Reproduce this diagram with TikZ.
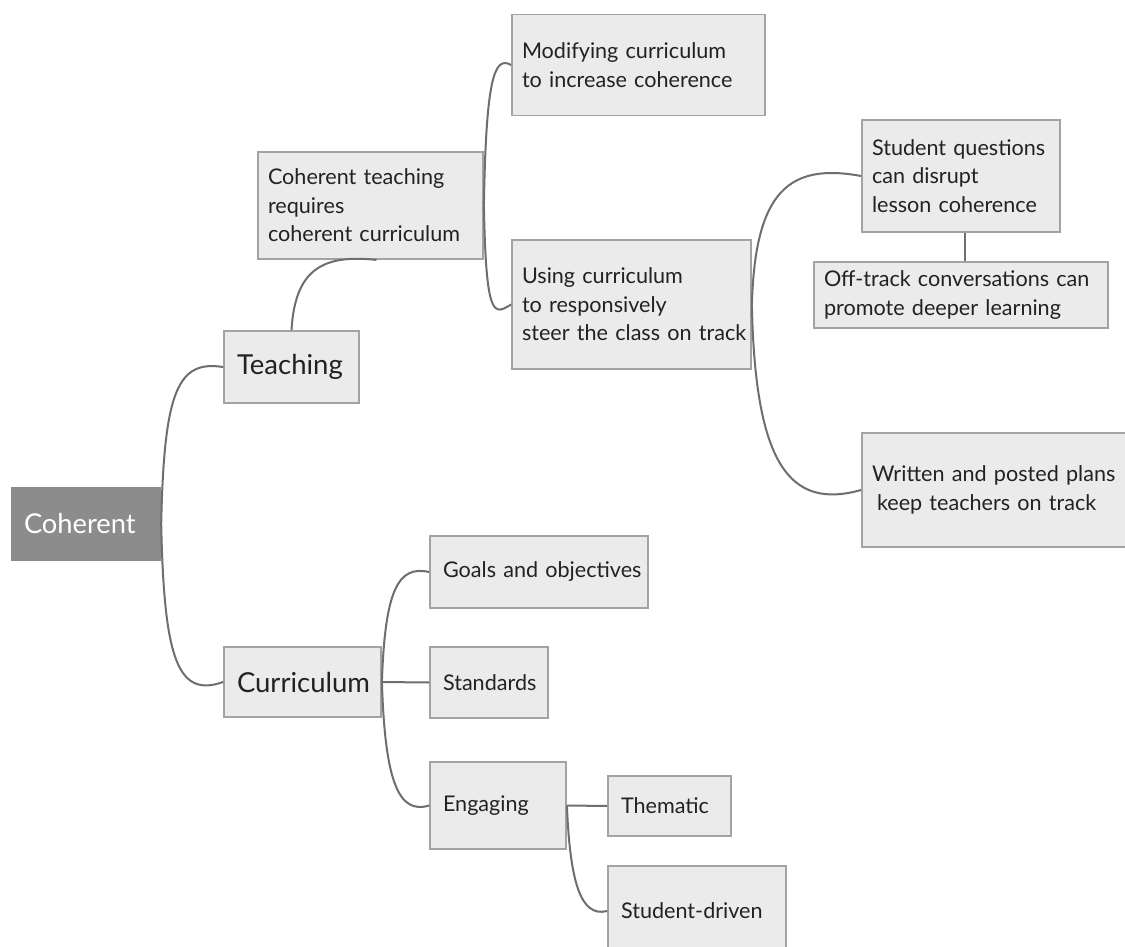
\documentclass[tikz,border=0pt]{standalone}
\usepackage{fontspec}
\setmainfont{Lato}
\definecolor{boxfill}{HTML}{EBEBEB}
\definecolor{boxline}{HTML}{A3A3A3}
\definecolor{rootfill}{HTML}{8C8C8C}
\definecolor{linkgray}{HTML}{6E6E6E}
\definecolor{inktext}{HTML}{222222}
% one unbroken line of box text
\newcommand{\oneline}[1]{\mbox{#1}}
\begin{document}
\begin{tikzpicture}[x=1pt,y=-1pt,
  base/.style={rectangle, inner ysep=0pt, align=left, text=inktext,
    execute at begin node={\hbadness=10000 \hfuzz=100pt}},
  box/.style={base, draw=boxline, fill=boxfill, line width=1.8pt,
    font=\fontsize{21.6}{28.5}\selectfont, inner xsep=10pt},
  wide/.style={box, inner xsep=13pt},
  big/.style={box, inner xsep=13pt, font=\fontsize{27.5}{32}\selectfont},
  root/.style={base, fill=rootfill, text=white, inner xsep=13pt,
    font=\fontsize{27.3}{32}\selectfont},
  link/.style={draw=linkgray, line width=2pt}]
\clip (0,0) rectangle (1125,947);
\fill[white] (0,0) rectangle (1125,947);

% root and first level
\node[root, text width=124pt, minimum height=74pt] (coh) at (86,524) {\oneline{Coherent}};
\node[big, text width=109pt, minimum height=72pt] (teach) at (291.5,367) {\oneline{Teaching}};
\node[big, text width=131pt, minimum height=70pt] (curr) at (302.5,682) {\oneline{Curriculum}};

% teaching branch
\node[box, text width=205pt, minimum height=107pt] (ct) at (370.5,205.5)
  {\oneline{Coherent teaching}\\\oneline{requires}\\\oneline{coherent curriculum}};
\node[box, text width=233pt, minimum height=101pt] (mod) at (638.5,65)
  {\oneline{Modifying curriculum}\\\oneline{to increase coherence}};
\node[box, text width=219pt, minimum height=129pt] (use) at (631.5,304.5)
  {\oneline{Using curriculum}\\\oneline{to responsively}\\\oneline{steer the class on track}};
\node[box, text width=178pt, minimum height=112pt] (sq) at (961,176)
  {\oneline{Student questions}\\\oneline{can disrupt}\\\oneline{lesson coherence}};
\node[box, text width=274pt, minimum height=66pt] (off) at (961,295)
  {\oneline{Off-track conversations can}\\\oneline{promote deeper learning}};
\node[box, text width=245pt, minimum height=114pt] (plan) at (994.5,490)
  {\oneline{Written and posted plans}\\\oneline{\hspace*{5pt}keep teachers on track}};

% curriculum branch
\node[wide, text width=192pt, minimum height=72pt] (goal) at (539,572) {\oneline{Goals and objectives}};
\node[wide, text width=92pt, minimum height=71pt] (std) at (489,682.5) {\oneline{Standards}};
\node[wide, text width=110pt, minimum height=87pt] (eng) at (498,805.5) {\oneline{Engaging}};
\node[wide, text width=97pt, minimum height=60pt] (them) at (669.5,806) {\oneline{Thematic}};
\node[wide, text width=152pt, minimum height=90pt] (sd) at (697,911) {\oneline{Student-driven}};

% connectors
\draw[link] (coh.east) .. controls (164,390) and (178,360) .. (teach.west);
\draw[link] (coh.east) .. controls (164,660) and (178,698) .. (curr.west);
\draw[link] (teach.north) .. controls (295,270) and (322,254) .. ([xshift=6pt]ct.south);
\draw[link] (ct.east) .. controls (486,80) and (494,55) .. (mod.west);
\draw[link] (ct.east) .. controls (486,320) and (494,315) .. (use.west);
\draw[link] (use.east) .. controls (755,190) and (790,163) .. (sq.west);
\draw[link] (use.east) .. controls (755,465) and (790,510) .. (plan.west);
\draw[link] ([xshift=4pt]sq.south) -- ([xshift=4pt]off.north);
\draw[link] (curr.east) .. controls (385,590) and (398,565) .. (goal.west);
\draw[link] (curr.east) -- (std.west);
\draw[link] (curr.east) .. controls (385,780) and (398,815) .. (eng.west);
\draw[link] (eng.east) -- (them.west);
\draw[link] (eng.east) .. controls (570,880) and (580,918) .. (sd.west);
\end{tikzpicture}
\end{document}
